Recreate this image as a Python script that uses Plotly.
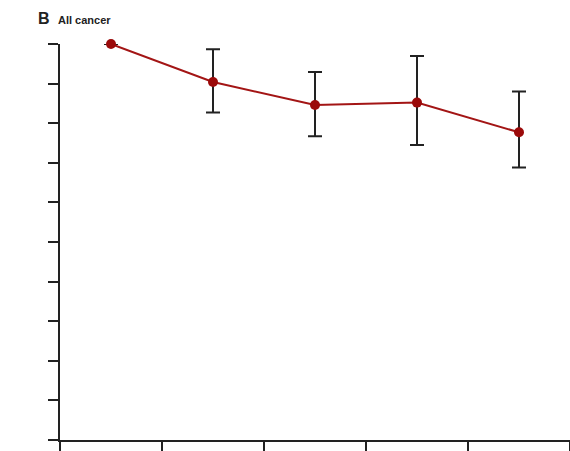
import plotly.graph_objects as go

x_pos = [0.5, 1.5, 2.5, 3.5, 4.5]
rr = [1.0, 0.904, 0.846, 0.852, 0.777]
upper = [1.0, 0.987, 0.929, 0.970, 0.880]
lower = [1.0, 0.827, 0.767, 0.745, 0.688]
x_ticks = [0, 1, 2, 3, 4, 5]
y_ticks = [round(i * 0.1, 1) for i in range(11)]

err_plus = [u - v for u, v in zip(upper, rr)]
err_minus = [v - l for v, l in zip(rr, lower)]

L, R, T, B = 60, 0, 44, 11
W, H = 570, 451

fig = go.Figure()
fig.add_trace(go.Scatter(
    x=x_pos, y=rr, mode="lines+markers",
    line=dict(color="#a31515", width=2),
    marker=dict(color="#9b0a0a", size=10),
    error_y=dict(type="data", symmetric=False, array=err_plus, arrayminus=err_minus,
                 color="#222222", thickness=2, width=7),
    showlegend=False, cliponaxis=False,
))

pw, ph = W - L - R, H - T - B


def px2paper(px, py):
    return (px - L) / pw, (H - B - py) / ph


bx, by = px2paper(36, 19)
ax_, ay_ = px2paper(56, 20)

fig.update_layout(
    width=W, height=H,
    margin=dict(l=L, r=R, t=T, b=B),
    paper_bgcolor="white", plot_bgcolor="white",
    xaxis=dict(range=[0, 5], tickvals=x_ticks, showticklabels=False, ticks="outside",
               ticklen=10, tickwidth=2, tickcolor="#222", showline=True, linewidth=2,
               linecolor="#222", showgrid=False, zeroline=False),
    yaxis=dict(range=[0, 1], tickvals=y_ticks, showticklabels=False, ticks="outside",
               ticklen=10, tickwidth=2, tickcolor="#222", showline=True, linewidth=2,
               linecolor="#222", showgrid=False, zeroline=False),
    annotations=[
        dict(text="<b>B</b>", x=bx, y=by, xref="paper", yref="paper", showarrow=False,
             font=dict(family="Liberation Sans", size=16, color="#222"),
             xanchor="left", yanchor="middle"),
        dict(text="<b>All cancer</b>", x=ax_, y=ay_, xref="paper", yref="paper", showarrow=False,
             font=dict(family="Liberation Sans Narrow, Liberation Sans", size=11, color="#222"),
             xanchor="left", yanchor="middle"),
    ],
)

fig.write_html("out.html", config={"displayModeBar": False},
               post_script="document.body.style.margin='0';")
